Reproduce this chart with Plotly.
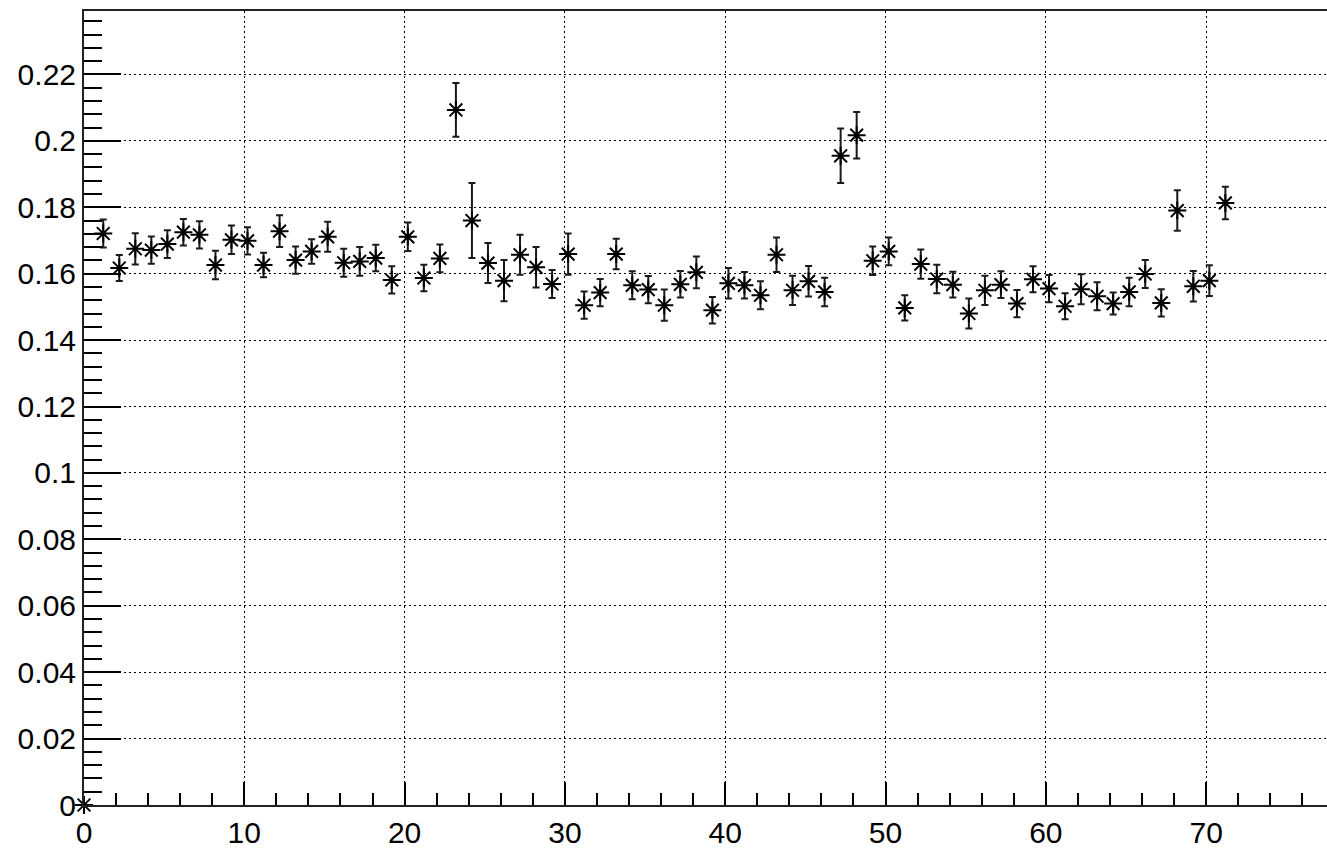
import plotly.graph_objects as go

x_vals = [0, 1.2, 2.2, 3.2, 4.2, 5.2, 6.2, 7.2, 8.2, 9.2, 10.2, 11.2, 12.2, 13.2, 14.2,
          15.2, 16.2, 17.2, 18.2, 19.2, 20.2, 21.2, 22.2, 23.2, 24.2, 25.2, 26.2, 27.2,
          28.2, 29.2, 30.2, 31.2, 32.2, 33.2, 34.2, 35.2, 36.2, 37.2, 38.2, 39.2, 40.2,
          41.2, 42.2, 43.2, 44.2, 45.2, 46.2, 47.2, 48.2, 49.2, 50.2, 51.2, 52.2, 53.2,
          54.2, 55.2, 56.2, 57.2, 58.2, 59.2, 60.2, 61.2, 62.2, 63.2, 64.2, 65.2, 66.2,
          67.2, 68.2, 69.2, 70.2, 71.2]

y_vals = [0.0, 0.1721, 0.1617, 0.1675, 0.1671, 0.1689, 0.1725, 0.1717, 0.1626, 0.1702,
          0.1699, 0.1626, 0.1728, 0.1641, 0.1667, 0.1711, 0.1633, 0.1637, 0.1647, 0.1581,
          0.1711, 0.1587, 0.1646, 0.2093, 0.1760, 0.1632, 0.1579, 0.1657, 0.1619, 0.1569,
          0.1659, 0.1505, 0.1543, 0.1659, 0.1565, 0.1552, 0.1505, 0.1568, 0.1604, 0.1490,
          0.1571, 0.1565, 0.1535, 0.1657, 0.1550, 0.1577, 0.1545, 0.1955, 0.2017, 0.1639,
          0.1667, 0.1497, 0.1629, 0.1584, 0.1567, 0.1480, 0.1550, 0.1567, 0.1510, 0.1583,
          0.1555, 0.1502, 0.1553, 0.1532, 0.1510, 0.1545, 0.1599, 0.1512, 0.1790, 0.1562,
          0.1579, 0.1813]

y_errs = [0.0, 0.0042, 0.0039, 0.0047, 0.0041, 0.0042, 0.0040, 0.0041, 0.0043, 0.0043,
          0.0041, 0.0037, 0.0048, 0.0041, 0.0037, 0.0045, 0.0042, 0.0043, 0.0040, 0.0041,
          0.0043, 0.0040, 0.0042, 0.0081, 0.0113, 0.0060, 0.0062, 0.0060, 0.0061, 0.0042,
          0.0062, 0.0041, 0.0041, 0.0046, 0.0042, 0.0041, 0.0047, 0.0040, 0.0048, 0.0040,
          0.0046, 0.0040, 0.0042, 0.0052, 0.0044, 0.0046, 0.0043, 0.0082, 0.0070, 0.0043,
          0.0042, 0.0038, 0.0044, 0.0043, 0.0039, 0.0045, 0.0044, 0.0040, 0.0041, 0.0039,
          0.0041, 0.0039, 0.0045, 0.0042, 0.0033, 0.0043, 0.0042, 0.0041, 0.0061, 0.0046,
          0.0046, 0.0049]

fig = go.Figure()
fig.add_trace(go.Scatter(
    x=x_vals, y=y_vals, mode="markers",
    marker=dict(symbol="asterisk-open", size=15, color="black",
                line=dict(color="black", width=2)),
    error_y=dict(type="data", array=y_errs, visible=True, color="#1a1a1a",
                 thickness=2, width=3.5),
    cliponaxis=False, showlegend=False,
))

font = dict(family="Liberation Sans, Arial, sans-serif", size=30, color="black")
grid_dash = "2px,3px"

fig.update_layout(
    width=1327, height=849,
    margin=dict(l=84, r=0, t=11, b=36),
    paper_bgcolor="white", plot_bgcolor="white",
    font=font,
    xaxis=dict(
        range=[0, 77.54], dtick=10, tick0=0,
        ticks="inside", ticklen=23, tickwidth=1.5, tickcolor="black",
        showline=True, linecolor="#222222", linewidth=2, mirror=True,
        showgrid=True, gridcolor="black", griddash=grid_dash, gridwidth=1,
        zeroline=False, tickfont=font,
        minor=dict(dtick=2, ticks="inside", ticklen=12, tickwidth=1.5,
                   tickcolor="black", showgrid=False),
    ),
    yaxis=dict(
        range=[0, 0.2391], dtick=0.02, tick0=0,
        ticks="inside", ticklen=37, tickwidth=1.5, tickcolor="black",
        showline=True, linecolor="#222222", linewidth=2, mirror=False,
        showgrid=True, gridcolor="black", griddash=grid_dash, gridwidth=1,
        zeroline=False, tickfont=font,
        minor=dict(dtick=0.004, ticks="inside", ticklen=18, tickwidth=1.5,
                   tickcolor="black", showgrid=False),
    ),
)

fig.write_html("out.html")
